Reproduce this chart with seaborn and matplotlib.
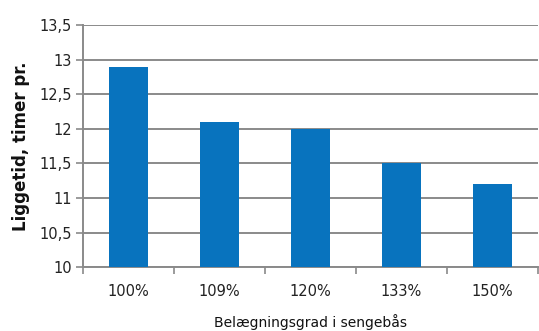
import matplotlib
matplotlib.use("Agg")
import matplotlib.pyplot as plt
import numpy as np
import pandas as pd
import seaborn as sns

CATEGORIES = ["100%", "109%", "120%", "133%", "150%"]
VALUES = [12.9, 12.1, 12.0, 11.5, 11.2]
YTICKS = [10, 10.5, 11, 11.5, 12, 12.5, 13, 13.5]
YTICK_LABELS = ["10", "10,5", "11", "11,5", "12", "12,5", "13", "13,5"]

sns.set_theme(style="white")
plt.rcParams["font.family"] = ["DejaVu Sans"]

df = pd.DataFrame({"grad": CATEGORIES, "tid": VALUES})

fig = plt.figure(figsize=(5.39, 3.31), dpi=100)
ax = fig.add_axes([0.154, 0.193, 0.844, 0.731])

sns.barplot(data=df, x="grad", y="tid", order=CATEGORIES, color="#0873BE",
            saturation=1, width=0.42, linewidth=0, ax=ax, zorder=3)

ax.set_ylim(10, 13.5)
ax.set_xlim(-0.5, len(CATEGORIES) - 0.5)
ax.set_yticks(YTICKS)
ax.set_yticklabels(YTICK_LABELS, fontsize=10.5, color="#222222")
ax.yaxis.grid(True, color="#8a8a8a", linewidth=1.4, zorder=0)
ax.tick_params(axis="y", left=True, length=5, width=1.2, color="#8a8a8a", pad=3)

ax.set_xticks(np.arange(len(CATEGORIES)))
ax.set_xticklabels(CATEGORIES, fontsize=10.5, color="#222222")
ax.tick_params(axis="x", which="major", bottom=True, length=0, pad=12)
ax.set_xticks(np.arange(-0.5, len(CATEGORIES)), minor=True)
ax.tick_params(axis="x", which="minor", bottom=True, length=5, width=1.2, color="#8a8a8a")

for side in ["top", "right"]:
    ax.spines[side].set_visible(False)
for side in ["left", "bottom"]:
    ax.spines[side].set_color("#8a8a8a")
    ax.spines[side].set_linewidth(1.4)

ax.set_xlabel("Belægningsgrad i sengebås", fontsize=10, color="#111111", labelpad=11)
ax.set_ylabel("Liggetid, timer pr.", fontsize=12, fontweight="bold", color="#111111",
              labelpad=7)

fig.savefig("out.png", dpi=100)
